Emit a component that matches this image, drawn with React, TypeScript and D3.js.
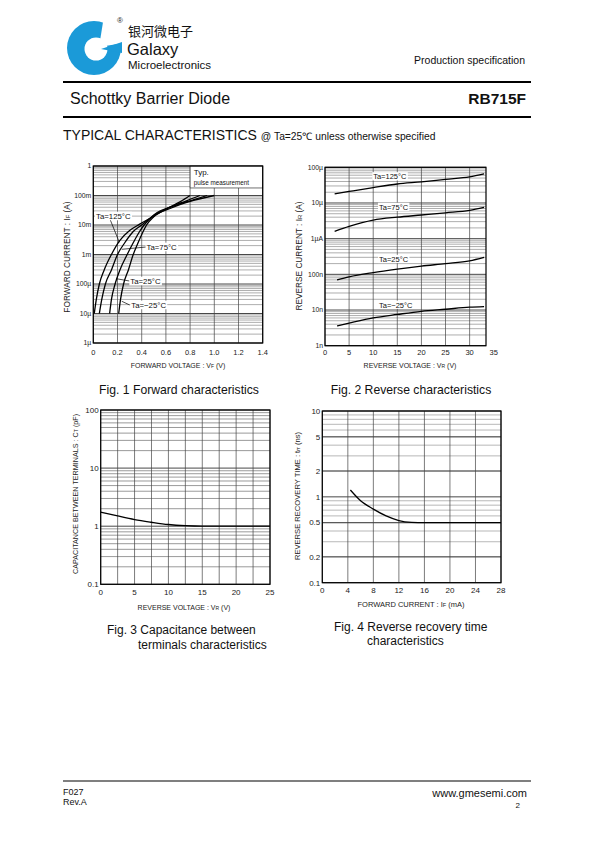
import React from 'react';
import * as d3 from 'd3';

const FONT = "'Liberation Sans', Arial, Helvetica, sans-serif";

// ---------- Fig. 1 Forward characteristics ----------
const fig1XTicks = [0, 0.2, 0.4, 0.6, 0.8, 1.0, 1.2, 1.4];
const fig1XLabels = ['0', '0.2', '0.4', '0.6', '0.8', '1.0', '1.2', '1.4'];
const fig1YTicks = [1e-6, 1e-5, 1e-4, 1e-3, 1e-2, 1e-1, 1];
const fig1YLabels = ['1µ', '10µ', '100µ', '1m', '10m', '100m', '1'];
const fwd125: [number, number][] = [[0.008, 1e-5], [0.025, 3e-5], [0.05, 1e-4], [0.09, 3e-4], [0.15, 1e-3], [0.22, 3e-3], [0.3, 6.5e-3], [0.38, 1.05e-2], [0.5, 2e-2], [0.62, 3.8e-2], [0.72, 6.2e-2], [0.8, 1e-1]];
const fwd75: [number, number][] = [[0.05, 1e-5], [0.07, 3e-5], [0.1, 1e-4], [0.15, 3e-4], [0.2, 1e-3], [0.26, 2.5e-3], [0.33, 6e-3], [0.4, 1e-2], [0.5, 2.1e-2], [0.65, 4.3e-2], [0.77, 6.6e-2], [0.88, 1e-1]];
const fwd25: [number, number][] = [[0.135, 1e-5], [0.15, 3e-5], [0.18, 1e-4], [0.22, 3e-4], [0.28, 1e-3], [0.33, 2.5e-3], [0.38, 5.8e-3], [0.42, 1e-2], [0.5, 2.2e-2], [0.68, 4.6e-2], [0.82, 7e-2], [0.94, 1e-1]];
const fwdM25: [number, number][] = [[0.21, 1e-5], [0.225, 3e-5], [0.25, 1e-4], [0.29, 3e-4], [0.33, 1e-3], [0.37, 2.5e-3], [0.41, 5.8e-3], [0.44, 1e-2], [0.5, 1.9e-2], [0.64, 3.7e-2], [0.8, 6.3e-2], [1.0, 1e-1]];
const fig1Names = ['Ta=125°C', 'Ta=75°C', 'Ta=25°C', 'Ta=−25°C'];

// ---------- Fig. 2 Reverse characteristics ----------
const fig2XTicks = [0, 5, 10, 15, 20, 25, 30, 35];
const fig2YTicks = [1e-9, 1e-8, 1e-7, 1e-6, 1e-5, 1e-4];
const fig2YLabels = ['1n', '10n', '100n', '1µA', '10µ', '100µ'];
const rev125: [number, number][] = [[2, 1.8e-5], [5, 2.1e-5], [10, 2.7e-5], [15, 3.4e-5], [20, 3.9e-5], [25, 4.6e-5], [30, 5.4e-5], [33, 6.5e-5]];
const rev75: [number, number][] = [[2, 1.6e-6], [5, 2.2e-6], [10, 3.3e-6], [15, 4e-6], [20, 4.6e-6], [25, 5.3e-6], [30, 6.2e-6], [33, 7.5e-6]];
const rev25: [number, number][] = [[2.5, 7e-8], [5, 8.5e-8], [10, 1.12e-7], [15, 1.4e-7], [20, 1.7e-7], [25, 2e-7], [30, 2.4e-7], [33, 3e-7]];
const revM25: [number, number][] = [[2.5, 3.6e-9], [5, 4.3e-9], [10, 6e-9], [15, 7.5e-9], [20, 9.2e-9], [25, 1.05e-8], [30, 1.2e-8], [33, 1.25e-8]];

// ---------- Fig. 3 Capacitance ----------
const fig3XTicks = [0, 5, 10, 15, 20, 25];
const fig3XGrid = [0, 2.5, 5, 7.5, 10, 12.5, 15, 17.5, 20, 22.5, 25];
const fig3YTicks = [0.1, 1, 10, 100];
const fig3YLabels = ['0.1', '1', '10', '100'];
const capVR = [0, 2.5, 5, 7.5, 10, 12.5, 15, 20, 25];
const capCT = [1.75, 1.5, 1.3, 1.17, 1.07, 1.02, 1.0, 1.0, 1.0];

// ---------- Fig. 4 Reverse recovery time ----------
const fig4XTicks = [0, 4, 8, 12, 16, 20, 24, 28];
const fig4YTicks = [0.1, 0.2, 0.5, 1, 2, 5, 10];
const fig4YLabels = ['0.1', '0.2', '0.5', '1', '2', '5', '10'];
const trrIF = [4.4, 6, 8, 10, 12, 14, 16, 20, 28];
const trrT = [1.2, 0.9, 0.72, 0.6, 0.53, 0.505, 0.5, 0.5, 0.5];

type Pt = [number, number];

function minorValues(domain: [number, number]) {
  const out: number[] = [];
  const e0 = Math.round(Math.log10(domain[0]));
  const e1 = Math.round(Math.log10(domain[1]));
  for (let e = e0; e < e1; e++) for (let m = 2; m <= 9; m++) out.push(m * Math.pow(10, e));
  return out;
}

type PanelProps = {
  left: number; right: number; top: number; bottom: number;
  xDomain: [number, number]; yDomain: [number, number];
  xGrid: number[]; xTicks: number[]; xLabels: string[];
  yTicks: number[]; yLabels: string[];
  curves: Pt[][];
  tickSize: number; yTickSize: number;
  xLabelGap: number;
  minorColor: string;
  annot?: (x: d3.ScaleLinear<number, number>, y: d3.ScaleLogarithmic<number, number>) => React.ReactNode;
};

function Panel(p: PanelProps) {
  const x = d3.scaleLinear().domain(p.xDomain).range([p.left, p.right]);
  const y = d3.scaleLog().domain(p.yDomain).range([p.bottom, p.top]);
  const line = d3.line<Pt>().x(d => x(d[0])).y(d => y(d[1])).curve(d3.curveMonotoneX);
  const minors = minorValues(p.yDomain);
  return (
    <g>
      {minors.map((v, i) => (
        <line key={'m' + i} x1={p.left} x2={p.right} y1={y(v)} y2={y(v)} stroke={p.minorColor} strokeWidth={0.6} />
      ))}
      {p.yTicks.map((v, i) => (
        <line key={'d' + i} x1={p.left} x2={p.right} y1={y(v)} y2={y(v)} stroke="#333" strokeWidth={0.9} />
      ))}
      {p.xGrid.map((v, i) => (
        <line key={'v' + i} x1={x(v)} x2={x(v)} y1={p.top} y2={p.bottom} stroke="#444" strokeWidth={0.7} />
      ))}
      {p.annot ? p.annot(x, y) : null}
      {p.curves.map((c, i) => (
        <path key={'c' + i} d={line(c) || ''} fill="none" stroke="#000" strokeWidth={1.3} />
      ))}
      <rect x={p.left} y={p.top} width={p.right - p.left} height={p.bottom - p.top} fill="none" stroke="#000" strokeWidth={1.2} />
      {p.xTicks.map((v, i) => (
        <text key={'xt' + i} x={x(v)} y={p.bottom + p.xLabelGap} fontSize={p.tickSize} textAnchor="middle" fill="#222">{p.xLabels[i]}</text>
      ))}
      {p.yTicks.map((v, i) => (
        <text key={'yt' + i} x={p.left - 2} y={y(v) + p.yTickSize * 0.35} fontSize={p.yTickSize} textAnchor="end" fill="#222">{p.yLabels[i]}</text>
      ))}
    </g>
  );
}

function Label({ x, y, text, size }: { x: number; y: number; text: string; size: number }) {
  const w = text.length * size * 0.56;
  return (
    <g>
      <rect x={x - 1} y={y - size * 0.55} width={w + 2} height={size * 1.1} fill="#fff" />
      <text x={x} y={y + size * 0.36} fontSize={size} fill="#111">{text}</text>
    </g>
  );
}

function Logo() {
  const blue = '#1b9ad8';
  return (
    <g>
      <circle cx={94} cy={48} r={27} fill={blue} />
      <polygon points="99,47 104,16 130,16 130,42" fill="#fff" />
      <circle cx={96} cy={49} r={11.5} fill="#fff" />
      <polygon points="101,49 122,42 122,53" fill={blue} />
      <text x={117} y={23} fontSize={8} fill="#222">®</text>
      <text x={128} y={35.5} fontSize={13} fill="#111" fontFamily="'Noto Sans CJK SC', sans-serif">银河微电子</text>
      <text x={127} y={54.5} fontSize={16.5} fill="#111">Galaxy</text>
      <text x={128} y={68.5} fontSize={11.5} fill="#111">Microelectronics</text>
    </g>
  );
}

export default function App() {
  const fig1Curves = [fwd125, fwd75, fwd25, fwdM25];
  const fig2Curves = [rev125, rev75, rev25, revM25];
  const capCurve: Pt[] = capVR.map((v, i) => [v, capCT[i]]);
  const trrCurve: Pt[] = trrIF.map((v, i) => [v, trrT[i]]);
  return (
    <svg width={595} height={842} style={{ position: 'absolute', left: 0, top: 0 }} fontFamily={FONT}>
      <rect x={0} y={0} width={595} height={842} fill="#fff" />
      <Logo />
      <text x={525} y={64} fontSize={10.5} textAnchor="end" fill="#111">Production specification</text>
      <line x1={63} x2={531} y1={82} y2={82} stroke="#000" strokeWidth={2} />
      <text x={70} y={104} fontSize={16} fill="#111">Schottky Barrier Diode</text>
      <text x={526} y={104} fontSize={15.5} fontWeight="bold" textAnchor="end" fill="#111">RB715F</text>
      <line x1={63} x2={531} y1={117} y2={117} stroke="#000" strokeWidth={2} />
      <text x={63} y={140} fill="#111">
        <tspan fontSize={14}>TYPICAL CHARACTERISTICS </tspan>
        <tspan fontSize={10.3}>@ Ta=25℃ unless otherwise specified</tspan>
      </text>

      {/* Fig 1 */}
      <Panel left={93.3} right={262.7} top={166} bottom={343} xDomain={[0, 1.4]} yDomain={[1e-6, 1]}
        xGrid={fig1XTicks} xTicks={fig1XTicks} xLabels={fig1XLabels} yTicks={fig1YTicks} yLabels={fig1YLabels}
        curves={fig1Curves} tickSize={7.5} yTickSize={6.8} xLabelGap={11.5} minorColor="#777"
        annot={(x, y) => (
          <g>
            <rect x={x(0.8)} y={y(1)} width={x(1.4) - x(0.8)} height={y(0.18) - y(1)} fill="#fff" stroke="#333" strokeWidth={0.7} />
            <text x={x(0.83)} y={y(0.5)} fontSize={8} fill="#111">Typ.</text>
            <text x={x(0.83)} y={y(0.22)} fontSize={6.3} fill="#111">pulse measurement</text>
            <line x1={x(0.14)} y1={y(0.015)} x2={x(0.215)} y2={y(2.6e-3)} stroke="#000" strokeWidth={0.7} />
            <line x1={x(0.44)} y1={y(1.8e-3)} x2={x(0.235)} y2={y(1.5e-3)} stroke="#000" strokeWidth={0.7} />
            <line x1={x(0.3)} y1={y(1.26e-4)} x2={x(0.195)} y2={y(1.5e-4)} stroke="#000" strokeWidth={0.7} />
            <line x1={x(0.3)} y1={y(1.95e-5)} x2={x(0.235)} y2={y(2.6e-5)} stroke="#000" strokeWidth={0.7} />
            <Label x={x(0.0225)} y={y(0.0202)} text={fig1Names[0]} size={7.8} />
            <Label x={x(0.44)} y={y(1.8e-3)} text={fig1Names[1]} size={7.8} />
            <Label x={x(0.306)} y={y(1.26e-4)} text={fig1Names[2]} size={7.8} />
            <Label x={x(0.314)} y={y(1.95e-5)} text={fig1Names[3]} size={7.8} />
          </g>
        )}
      />
      <text transform="translate(70,257) rotate(-90)" fontSize={8.3} textAnchor="middle" fill="#222">
        FORWARD CURRENT : I<tspan fontSize={5.8}>F</tspan> (A)
      </text>
      <text x={178} y={368} fontSize={7} textAnchor="middle" fill="#222">
        FORWARD VOLTAGE : V<tspan fontSize={5}>F</tspan> (V)
      </text>
      <text x={179} y={394} fontSize={12.2} textAnchor="middle" fill="#111">Fig. 1 Forward characteristics</text>

      {/* Fig 2 */}
      <Panel left={325} right={486} top={167.3} bottom={345.7} xDomain={[0, 33.4]} yDomain={[1e-9, 1e-4]}
        xGrid={[0, 5, 10, 15, 20, 25, 30]} xTicks={fig2XTicks} xLabels={fig2XTicks.map(String)} yTicks={fig2YTicks} yLabels={fig2YLabels}
        curves={fig2Curves} tickSize={7.5} yTickSize={6.8} xLabelGap={9} minorColor="#777"
        annot={(x, y) => (
          <g>
            <Label x={x(10)} y={y(5.6e-5)} text={fig1Names[0]} size={7.5} />
            <Label x={x(11.2)} y={y(7.8e-6)} text={fig1Names[1]} size={7.5} />
            <Label x={x(11.2)} y={y(2.7e-7)} text={fig1Names[2]} size={7.5} />
            <Label x={x(11.2)} y={y(1.4e-8)} text={fig1Names[3]} size={7.5} />
          </g>
        )}
      />
      <text transform="translate(302,256) rotate(-90)" fontSize={8.3} textAnchor="middle" fill="#222">
        REVERSE CURRENT : I<tspan fontSize={5.8}>R</tspan> (A)
      </text>
      <text x={410} y={368} fontSize={7} textAnchor="middle" fill="#222">
        REVERSE VOLTAGE : V<tspan fontSize={5}>R</tspan> (V)
      </text>
      <text x={411} y={394} fontSize={12.2} textAnchor="middle" fill="#111">Fig. 2 Reverse characteristics</text>

      {/* Fig 3 */}
      <Panel left={100.7} right={270} top={410} bottom={584.3} xDomain={[0, 25]} yDomain={[0.1, 100]}
        xGrid={fig3XGrid} xTicks={fig3XTicks} xLabels={fig3XTicks.map(String)} yTicks={fig3YTicks} yLabels={fig3YLabels}
        curves={[capCurve]} tickSize={8} yTickSize={8} xLabelGap={11} minorColor="#555"
      />
      <text transform="translate(78,494) rotate(-90)" fontSize={7.2} textAnchor="middle" fill="#222">
        CAPACITANCE BETWEEN TERMINALS : C<tspan fontSize={5.2}>T</tspan> (pF)
      </text>
      <text x={184} y={610} fontSize={7} textAnchor="middle" fill="#222">
        REVERSE VOLTAGE : V<tspan fontSize={5}>R</tspan> (V)
      </text>
      <text x={107} y={634} fontSize={12} fill="#111">Fig. 3 Capacitance between</text>
      <text x={138} y={649} fontSize={12} fill="#111">terminals characteristics</text>

      {/* Fig 4 */}
      <Panel left={322.3} right={501} top={411} bottom={582.7} xDomain={[0, 28]} yDomain={[0.1, 10]}
        xGrid={fig4XTicks} xTicks={fig4XTicks} xLabels={fig4XTicks.map(String)} yTicks={fig4YTicks} yLabels={fig4YLabels}
        curves={[trrCurve]} tickSize={8} yTickSize={8} xLabelGap={10} minorColor="#888"
      />
      <text transform="translate(300,496) rotate(-90)" fontSize={7.6} textAnchor="middle" fill="#222">
        REVERSE RECOVERY TIME : t<tspan fontSize={5.5}>rr</tspan> (ns)
      </text>
      <text x={411} y={607} fontSize={7.5} textAnchor="middle" fill="#222">
        FORWARD CURRENT : I<tspan fontSize={5.5}>F</tspan> (mA)
      </text>
      <text x={334} y={631} fontSize={12} fill="#111">Fig. 4 Reverse recovery time</text>
      <text x={367} y={645} fontSize={12} fill="#111">characteristics</text>

      {/* Footer */}
      <line x1={63} x2={531} y1={781} y2={781} stroke="#000" strokeWidth={1.2} />
      <text x={63} y={795} fontSize={9} fill="#111">F027</text>
      <text x={63} y={805} fontSize={9} fill="#111">Rev.A</text>
      <text x={527} y={797} fontSize={11} textAnchor="end" fill="#111">www.gmesemi.com</text>
      <text x={520} y={808} fontSize={8} textAnchor="end" fill="#111">2</text>
    </svg>
  );
}
